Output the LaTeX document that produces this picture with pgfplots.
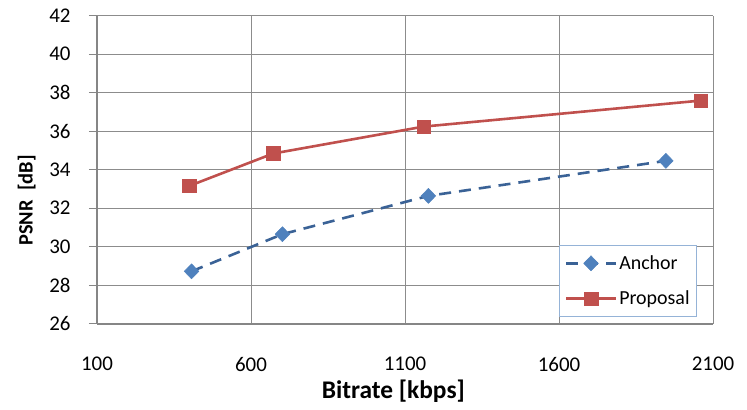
\documentclass[border=0pt]{standalone}
\usepackage{pgfplots}
\pgfplotsset{compat=1.18}
\usepackage{fontspec}
\setmainfont{Carlito}
\definecolor{gridc}{RGB}{140,140,140}
\definecolor{axc}{RGB}{134,134,134}
\definecolor{ancline}{RGB}{58,98,150}
\definecolor{ancmark}{RGB}{79,129,189}
\definecolor{prop}{RGB}{192,80,77}
\definecolor{legc}{RGB}{149,179,215}
\begin{document}
\begin{tikzpicture}
\begin{axis}[
  name=ax,
  scale only axis,
  width=616bp, height=308bp,
  xmin=100, xmax=2100, ymin=26, ymax=42,
  xtick={100,600,1100,1600,2100},
  ytick={26,28,...,42},
  axis x line*=bottom, axis y line*=left,
  axis line style={draw=axc, line width=1.6bp},
  grid=major,
  major grid style={draw=gridc, line width=1bp},
  tick align=outside,
  major tick length=8bp,
  xtick style={draw=none},
  ytick style={draw=axc, line width=1.2bp},
  /pgf/number format/assume math mode=true,
  /pgf/number format/1000 sep={},
  tick label style={font=\fontsize{21}{24}\selectfont, text=black},
  yticklabel style={xshift=-15bp},
  xticklabel style={yshift=-22bp},
  xlabel={\textbf{Bitrate [kbps]}},
  ylabel={\textbf{PSNR \ [dB]}},
  xlabel style={font=\fontsize{25.5}{28}\selectfont, at={(axis description cs:0.481,-0.22)}, anchor=center},
  ylabel style={font=\fontsize{20.5}{22}\selectfont, at={(axis description cs:-0.114,0.40)}, anchor=center, rotate=0},
  legend style={at={(1,0)}, anchor=south east, xshift=-16bp, yshift=7bp,
    draw=legc, line width=0.8bp, fill=white,
    font=\fontsize{20}{24}\selectfont,
    inner xsep=5bp, inner ysep=8bp,
    row sep=16bp},
  legend cell align=left,
  legend image code/.code={
    \draw[mark repeat=2,mark phase=2] plot coordinates {(0bp,0bp)(25bp,0bp)(50bp,0bp)};},
]
\addplot[color=ancline, line width=2.6bp, dash pattern=on 12bp off 8bp,
  mark=diamond*, mark size=7.5bp,
  mark options={solid, xscale=1.3, fill=ancmark, draw=ancmark, line width=0.5bp}]
  coordinates {(407,28.72) (702,30.65) (1176,32.64) (1947,34.46)};
\addlegendentry{Anchor}
\addplot[color=prop, line width=2.6bp,
  mark=square*, mark size=6.8bp,
  mark options={solid, fill=prop, draw=prop, line width=0.5bp}]
  coordinates {(400,33.16) (672,34.84) (1161,36.24) (2060,37.59)};
\addlegendentry{Proposal}
\end{axis}
\pgfresetboundingbox
\path ([shift={(-97bp,-86bp)}]ax.south west) rectangle ([shift={(34bp,15.7bp)}]ax.north east);
\end{tikzpicture}
\end{document}
